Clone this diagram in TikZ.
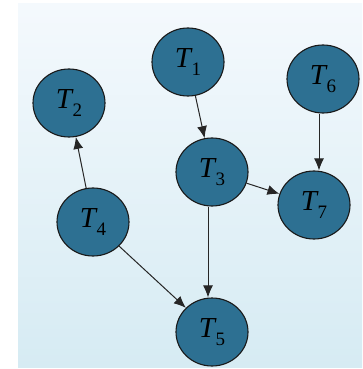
\documentclass[tikz,border=0pt]{standalone}
\usepackage{fontspec}
\setmainfont{Liberation Serif}
\usepackage{tikz}
\usetikzlibrary{arrows.meta}
\usetikzlibrary{shapes.geometric}

\definecolor{taskblue}{RGB}{45,112,146}
\definecolor{bgtop}{RGB}{244,249,253}
\definecolor{bgbottom}{RGB}{214,235,243}
\newcommand{\tlab}[1]{\textit{T}\kern-1pt\raisebox{-8pt}{\fontsize{19}{19}\selectfont #1}}

\tikzset{
    task/.style={ellipse,draw=black!90,line width=1.1pt,fill=taskblue,minimum width=72pt,minimum height=68pt,inner sep=0pt,font=\fontsize{29}{29}\selectfont},
    dep/.style={->,draw=black!85,line width=1pt},
    >={Latex[length=12pt,width=10pt]}
}

\begin{document}
\begin{tikzpicture}[x=1pt,y=-1pt]
        \useasboundingbox (0,0) rectangle (362,369);
        \shade[top color=bgtop,bottom color=bgbottom] (18,4) rectangle (362,367);
        \node[task] (t1) at (188,62) {\tlab{1}};
        \node[task] (t2) at (69,103) {\tlab{2}};
        \node[task] (t3) at (212,172) {\tlab{3}};
        \node[task] (t4) at (93,222) {\tlab{4}};
        \node[task] (t5) at (212,332) {\tlab{5}};
        \node[task] (t6) at (323,79) {\tlab{6}};
        \node[task] (t7) at (314,205) {\tlab{7}};
        \draw[dep] (t1) -- (t3);
        \draw[dep] ([xshift=-4pt]t6.south) -- ([xshift=5pt]t7.north);
        \draw[dep] (t3) -- (t7);
        \draw[dep] ([xshift=-4pt]t3.south) -- ([xshift=-4pt]t5.north);
        \draw[dep] (t4) -- (t2);
        \draw[dep] (t4) -- (t5);
\end{tikzpicture}
\end{document}
